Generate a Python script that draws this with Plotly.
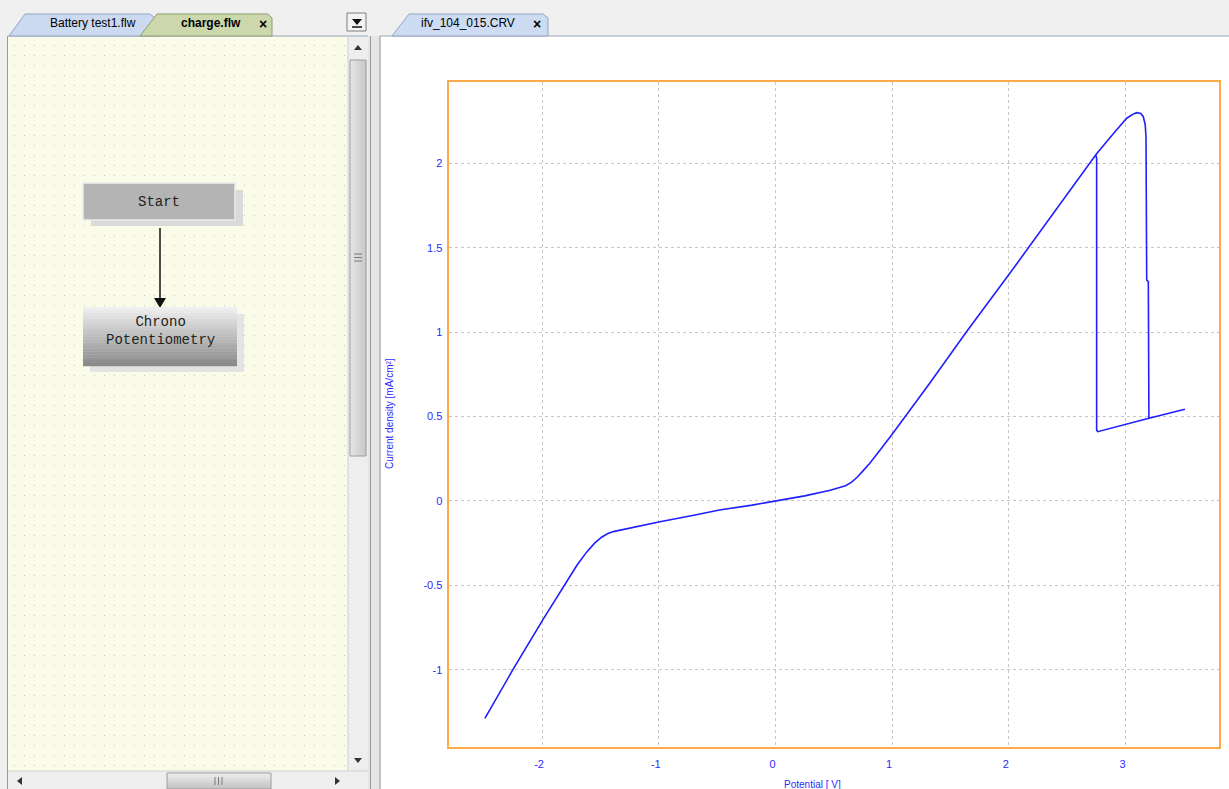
import base64
import plotly.graph_objects as go

# ---------------- data ----------------
potential_scan = [-2.49, -2.25, -1.99, -1.79, -1.70, -1.62, -1.55, -1.49, -1.44, -1.39, -1.30, -1.20,
                  -0.99, -0.70, -0.48, -0.20, 0.00, 0.25, 0.47, 0.55, 0.60, 0.65, 0.70, 0.75, 0.81,
                  0.90, 1.00, 1.32, 1.64, 2.01, 2.32, 2.60, 2.75, 2.90, 3.01, 3.06, 3.095, 3.13,
                  3.152, 3.168, 3.175, 3.181, 3.195, 3.200, 3.35, 3.509]
current_scan = [-1.288, -1.000, -0.700, -0.475, -0.380, -0.305, -0.250, -0.215, -0.195, -0.182, -0.168, -0.153,
                -0.123, -0.085, -0.054, -0.025, 0.000, 0.030, 0.063, 0.078, 0.090, 0.110, 0.140, 0.178, 0.225,
                0.305, 0.395, 0.695, 1.005, 1.350, 1.645, 1.915, 2.055, 2.180, 2.267, 2.290, 2.300, 2.295,
                2.276, 2.230, 2.158, 1.309, 1.299, 0.490, 0.516, 0.543]
potential_step = [2.744, 2.752, 2.752, 2.761, 3.200]
current_step = [2.049, 2.030, 0.420, 0.410, 0.490]

x_tick_vals = [-2, -1, 0, 1, 2, 3]
x_tick_text = ["-2", "-1", "0", "1", "2", "3"]
y_tick_vals = [-1, -0.5, 0, 0.5, 1, 1.5, 2]
y_tick_text = ["-1", "-0.5", "0", "0.5", "1", "1.5", "2"]

x_title = "Potential [ V]"
y_title = "Current density [mA/cm\u00b2]"
tab_labels = ["Battery test1.flw", "charge.flw", "ifv_104_015.CRV"]
flow_labels = ["Start", "Chrono<br>Potentiometry"]

# ---------------- helpers (pixel -> paper) ----------------
W, H = 1229, 789


def X(p):
    return p / W


def Y(p):
    return 1 - p / H


shapes = []
annotations = []


def rect(x0, y0, x1, y1, fill, line="rgba(0,0,0,0)", lw=0):
    shapes.append(dict(type="rect", xref="paper", yref="paper", x0=X(x0), x1=X(x1),
                       y0=Y(y1), y1=Y(y0), fillcolor=fill,
                       line=dict(color=line, width=lw), layer="below"))


def poly(pts, fill, line="rgba(0,0,0,0)", lw=0, closed=True):
    d = "M" + " L".join(f"{X(a):.5f},{Y(b):.5f}" for a, b in pts) + (" Z" if closed else "")
    shapes.append(dict(type="path", xref="paper", yref="paper", path=d, fillcolor=fill,
                       line=dict(color=line, width=lw), layer="below"))


def seg(x0, y0, x1, y1, color, lw=1):
    shapes.append(dict(type="line", xref="paper", yref="paper", x0=X(x0), x1=X(x1),
                       y0=Y(y0), y1=Y(y1), line=dict(color=color, width=lw), layer="below"))


def mix(c1, c2, t):
    a = [int(c1[i:i + 2], 16) for i in (1, 3, 5)]
    b = [int(c2[i:i + 2], 16) for i in (1, 3, 5)]
    return "#" + "".join(f"{round(a[k] + (b[k] - a[k]) * t):02x}" for k in range(3))


def grad(x0, y0, x1, y1, ctop, cbot, n=16, horizontal=False):
    for i in range(n):
        t = i / (n - 1)
        if horizontal:
            rect(x0 + (x1 - x0) * i / n, y0, x0 + (x1 - x0) * (i + 1) / n + 0.3, y1, mix(ctop, cbot, t))
        else:
            rect(x0, y0 + (y1 - y0) * i / n, x1, y0 + (y1 - y0) * (i + 1) / n + 0.3, mix(ctop, cbot, t))


def text(x, y, s, size=12, color="#000", family="Liberation Sans", **kw):
    annotations.append(dict(xref="paper", yref="paper", x=X(x), y=Y(y), text=s, showarrow=False,
                            font=dict(size=size, color=color, family=family),
                            xanchor=kw.pop("xanchor", "center"), yanchor=kw.pop("yanchor", "middle"), **kw))


# ---------------- window chrome ----------------
rect(380, 36, 1229, 789, "#ffffff")
seg(380, 36, 380, 789, "#8c8c8c", 1)
seg(380, 36, 1229, 36, "#9aa6b4", 1)
seg(7.5, 36, 7.5, 789, "#9a9a9a", 1)
seg(8, 36, 368, 36, "#9aa6b4", 1)
rect(368, 36, 379, 789, "#e6e6e6")
seg(370.5, 36, 370.5, 789, "#9a9a9a", 1)

# tabs
poly([(9, 36), (25, 14), (150, 14), (155, 18), (155, 36)], "#cbdaf1", "#95a5bd", 1)
poly([(140, 36), (157, 14), (268, 14), (272, 18), (272, 36)], "#ccd7ac", "#8f9d72", 1)
poly([(392, 36), (409, 14), (543, 14), (548, 18), (548, 36)], "#cddcf3", "#95a5bd", 1)
text(93, 23, tab_labels[0], 12)
text(211, 23, "<b>" + tab_labels[1] + "</b>", 12)
text(263, 24, "<b>\u00d7</b>", 14)
text(468, 23, tab_labels[2], 12)
text(537, 24, "<b>\u00d7</b>", 14)
rect(347, 13, 366, 31, "#f4f4f4", "#7d7d7d", 1)
poly([(352, 19), (362, 19), (357, 25)], "#111111")
seg(352, 27, 362, 27, "#111111", 1.5)

# vertical scrollbar
rect(348, 37, 368, 771, "#eeeeee")
seg(348, 37, 348, 771, "#d0d0d0", 1)
poly([(354, 50), (362, 50), (358, 45)], "#333333")
grad(350, 60, 366, 456, "#e4e4e4", "#c8c8c8", n=10, horizontal=True)
rect(350, 60, 366, 456, "rgba(0,0,0,0)", "#9c9c9c", 1)
for gy in (254, 257.5, 261):
    seg(354, gy, 362, gy, "#7a7a7a", 1)
poly([(354, 758), (362, 758), (358, 763)], "#333333")
# horizontal scrollbar
rect(8, 771, 368, 789, "#eeeeee")
seg(8, 771, 368, 771, "#d0d0d0", 1)
poly([(22, 777), (22, 785), (17, 781)], "#333333")
poly([(335, 777), (335, 785), (340, 781)], "#333333")
grad(167, 773, 271, 789, "#ececec", "#c4c4c4", n=8)
rect(167, 773, 271, 789, "rgba(0,0,0,0)", "#9c9c9c", 1)
for gx in (215, 218.5, 222):
    seg(gx, 777, gx, 785, "#7a7a7a", 1)

# flow diagram
rect(91, 190, 243, 226, "#dadada")
rect(83, 183, 235, 220, "#b4b4b4", "#ececec", 1.5)
seg(160, 228, 160, 299, "#111111", 1.5)
poly([(154, 298), (166, 298), (160, 308)], "#111111")
rect(90, 314, 244, 372, "#e4e4e4")
grad(83, 307, 237, 366, "#efefef", "#8a8a8a", n=20)
text(159, 202, flow_labels[0], 14, "#222222", "Liberation Mono")
text(160, 331, flow_labels[1], 14, "#222222", "Liberation Mono")

# dotted background of the flow editor (decorative pattern)
svg = ("<svg xmlns='http://www.w3.org/2000/svg' width='340' height='734' viewBox='0 0 340 734'>"
       "<defs><pattern id='p' x='0' y='0' width='10' height='10' patternUnits='userSpaceOnUse'>"
       "<rect x='6' y='8' width='1' height='1' fill='#c4c4ae'/></pattern></defs>"
       "<rect width='340' height='734' fill='#fbfbea'/><rect width='340' height='734' fill='url(#p)'/></svg>")
bg_src = "data:image/svg+xml;base64," + base64.b64encode(svg.encode()).decode()

# axis titles
text(389, 414, y_title, 10, "#2a2aff", textangle=-90)
text(812, 784, x_title, 10, "#2a2aff")

# ---------------- chart ----------------
fig = go.Figure()
line_style = dict(color="#1f1fff", width=1.6)
fig.add_trace(go.Scatter(x=potential_scan, y=current_scan, mode="lines", line=line_style,
                         showlegend=False, hoverinfo="x+y"))
fig.add_trace(go.Scatter(x=potential_step, y=current_step, mode="lines", line=line_style,
                         showlegend=False, hoverinfo="x+y"))

axis_common = dict(showgrid=True, gridcolor="#c6c6c6", gridwidth=1, griddash="3px,3px",
                   zeroline=False, showline=True, mirror=True, linecolor="#ffaa4a", linewidth=1.5,
                   ticks="", tickfont=dict(family="Liberation Sans", size=11, color="#2a2aff"),
                   automargin=False, fixedrange=True)

fig.update_layout(
    width=W, height=H,
    margin=dict(l=0, r=0, t=0, b=0),
    paper_bgcolor="#f0f0f0",
    plot_bgcolor="rgba(0,0,0,0)",
    xaxis=dict(domain=[X(449.3), X(1218.7)], range=[-2.795, 3.798], tickmode="array",
               tickvals=x_tick_vals, ticktext=x_tick_text, ticklabelstandoff=6,
               ticklabelshift=-3, **axis_common),
    yaxis=dict(domain=[Y(747.3), Y(82)], range=[-1.4597, 2.4816], tickmode="array",
               tickvals=y_tick_vals, ticktext=y_tick_text, ticklabelstandoff=3, **axis_common),
    shapes=shapes,
    annotations=annotations,
    images=[dict(source=bg_src, xref="paper", yref="paper", x=X(8), y=Y(37),
                 sizex=340 / W, sizey=734 / H, xanchor="left", yanchor="top",
                 sizing="stretch", layer="below")],
)

fig.write_html("out.html", config={"displayModeBar": False},
               post_script="document.body.style.margin='0';document.body.style.overflow='hidden';")
